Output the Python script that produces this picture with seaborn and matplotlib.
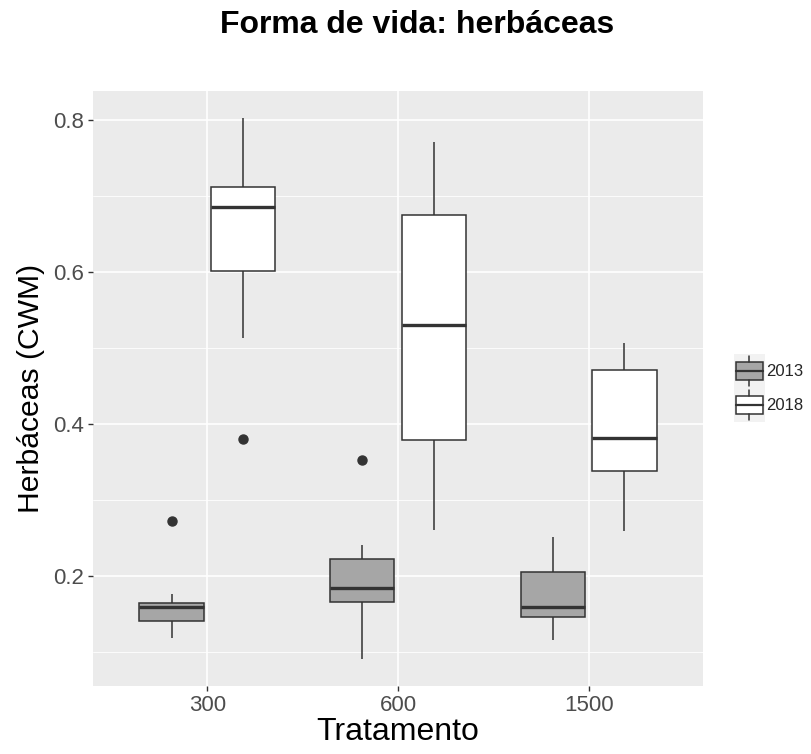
import numpy as np
import pandas as pd
import matplotlib
matplotlib.use("Agg")
import matplotlib.pyplot as plt
import seaborn as sns
from matplotlib import font_manager
from matplotlib.font_manager import FontProperties
from matplotlib.legend_handler import HandlerBase
from matplotlib.patches import Rectangle, Patch
from matplotlib.lines import Line2D

# ---- data ----
tratamentos = ["300", "600", "1500"]
anos = ["2013", "2018"]
g300_2013 = [0.119, 0.130, 0.141, 0.150, 0.160, 0.162, 0.164, 0.176, 0.273]
g300_2018 = [0.381, 0.513, 0.602, 0.640, 0.686, 0.700, 0.712, 0.750, 0.803]
g600_2013 = [0.091, 0.150, 0.166, 0.175, 0.185, 0.200, 0.223, 0.241, 0.353]
g600_2018 = [0.261, 0.379, 0.530, 0.675, 0.771]
g1500_2013 = [0.116, 0.146, 0.160, 0.205, 0.252]
g1500_2018 = [0.260, 0.338, 0.382, 0.472, 0.507]
y_ticks = [0.2, 0.4, 0.6, 0.8]
y_minor = [0.1, 0.3, 0.5, 0.7]

groups = {
    ("300", "2013"): g300_2013, ("300", "2018"): g300_2018,
    ("600", "2013"): g600_2013, ("600", "2018"): g600_2018,
    ("1500", "2013"): g1500_2013, ("1500", "2018"): g1500_2018,
}
rows = []
for (t, a), vals in groups.items():
    for v in vals:
        rows.append({"Tratamento": t, "Ano": a, "val": v})
df = pd.DataFrame(rows)

sns.set_theme(style="white")
plt.rcParams["font.family"] = ["Liberation Sans", "DejaVu Sans"]

# explicit (non-narrow) Liberation Sans Bold for the title
bold_path = None
for f in font_manager.fontManager.ttflist:
    if f.fname.endswith("LiberationSans-Bold.ttf"):
        bold_path = f.fname
        break
if bold_path:
    title_fp = FontProperties(fname=bold_path, size=23)
else:
    title_fp = FontProperties(family="DejaVu Sans", weight="bold", size=21)

W, H = 811, 754
fig = plt.figure(figsize=(W / 100, H / 100), dpi=100)
L, R, T, B = 93, 703, 91, 686
ax = fig.add_axes([L / W, 1 - B / H, (R - L) / W, (B - T) / H])
ax.set_facecolor("#EBEBEB")

fills = {"2013": "#A6A6A6", "2018": "#FFFFFF"}
edge = "#333333"
sns.boxplot(
    data=df, x="Tratamento", y="val", hue="Ano",
    order=tratamentos, hue_order=anos, palette=fills,
    width=0.75, gap=0.1, linecolor=edge, linewidth=1.1,
    showcaps=False, saturation=1,
    medianprops=dict(linewidth=2.4, color=edge),
    flierprops=dict(marker="o", markerfacecolor=edge, markeredgecolor=edge,
                    markersize=6.5),
    ax=ax,
)
if ax.get_legend() is not None:
    ax.get_legend().remove()

allv = df["val"].values
lo, hi = allv.min(), allv.max()
pad = 0.05 * (hi - lo)
ax.set_ylim(lo - pad, hi + pad)
ax.set_xlim(-0.6, 2.6)

ax.set_yticks(y_ticks)
ax.set_yticklabels([f"{v:.1f}" for v in y_ticks])
ax.set_yticks(y_minor, minor=True)
ax.grid(True, which="major", color="white", linewidth=1.2)
ax.grid(True, which="minor", axis="y", color="white", linewidth=0.6)
ax.set_axisbelow(True)
for s in ax.spines.values():
    s.set_visible(False)

ax.tick_params(axis="both", which="major", length=3.5, width=1.0, color=edge,
               labelsize=16, labelcolor="#4D4D4D", pad=3, left=True, bottom=True)
ax.tick_params(axis="y", which="minor", length=0, left=False)

ax.set_xlabel("Tratamento", fontsize=23, color="black", labelpad=1)
ax.set_ylabel("Herbáceas (CWM)", fontsize=21.7, color="black", labelpad=6)

fig.text(417 / W, 1 - 33 / H, "Forma de vida: herbáceas",
         va="baseline", ha="center", color="black", fontproperties=title_fp)


class BoxHandler(HandlerBase):
    def create_artists(self, legend, orig_handle, xdescent, ydescent,
                       width, height, fontsize, trans):
        fc = orig_handle.get_facecolor()
        x0, y0 = -xdescent, -ydescent
        bg = Rectangle((x0, y0), width, height, facecolor="#F2F2F2",
                       edgecolor="none", transform=trans)
        box = Rectangle((x0 + width * 0.06, y0 + height * 0.22), width * 0.88,
                        height * 0.56, facecolor=fc, edgecolor=edge, lw=1.1,
                        transform=trans)
        cx = x0 + width / 2
        med = Line2D([x0 + width * 0.06, x0 + width * 0.94],
                     [y0 + height / 2] * 2, color=edge, lw=1.6, transform=trans)
        w1 = Line2D([cx, cx], [y0 + height * 0.78, y0 + height * 0.95],
                    color=edge, lw=1.1, transform=trans)
        w2 = Line2D([cx, cx], [y0 + height * 0.05, y0 + height * 0.22],
                    color=edge, lw=1.1, transform=trans)
        return [bg, box, med, w1, w2]


handles = [Patch(facecolor=fills[a], edgecolor=edge) for a in anos]
fig.legend(handles, anos, loc="center left",
           bbox_to_anchor=(734 / W, 1 - 388 / H), frameon=False,
           fontsize=12, handler_map={Patch: BoxHandler()},
           handlelength=1.85, handleheight=2.7, handletextpad=0.1,
           labelspacing=0.05, borderpad=0, borderaxespad=0)

fig.savefig("out.png", dpi=100)
